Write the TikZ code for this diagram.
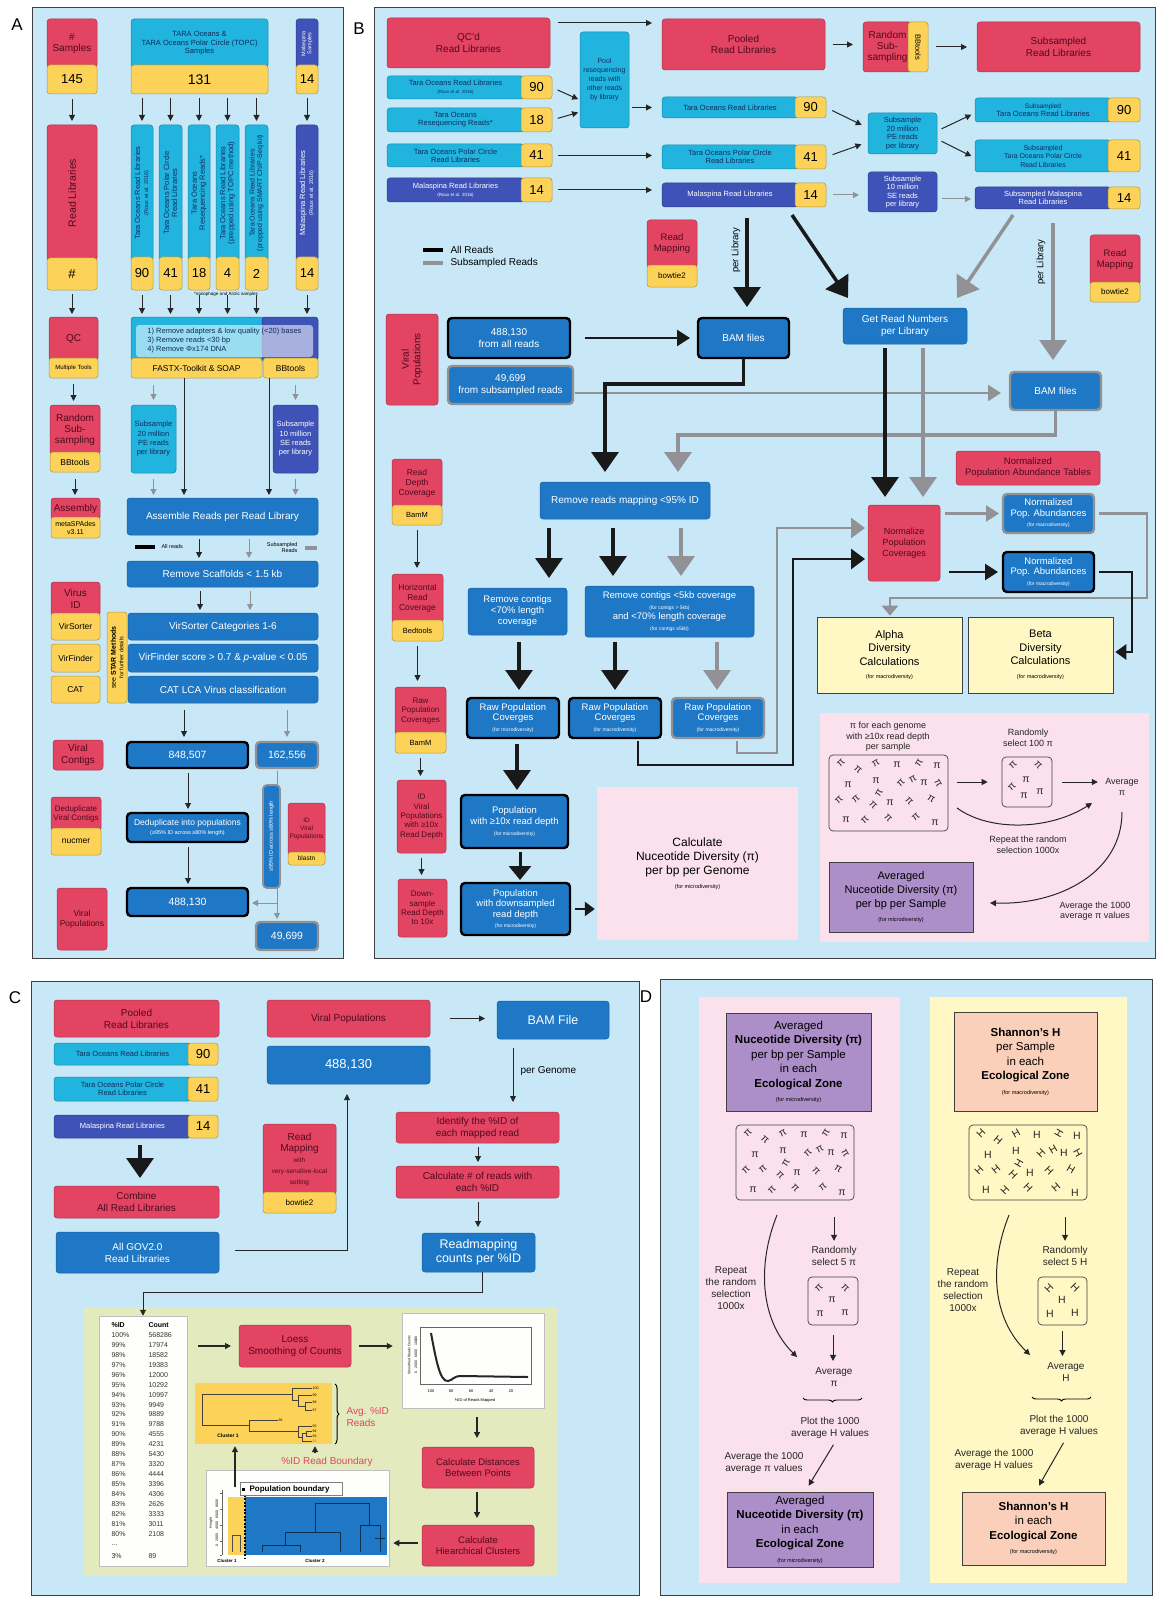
\documentclass[tikz,border=0pt]{standalone}
\usepackage{fontspec}
\setmainfont{Liberation Sans}
\usetikzlibrary{arrows.meta,decorations.pathreplacing}
\definecolor{cBg}{RGB}{200,232,248}
\definecolor{cR}{RGB}{226,68,98}
\definecolor{cRt}{RGB}{80,10,30}
\definecolor{cY}{RGB}{252,211,88}
\definecolor{cC}{RGB}{33,180,222}
\definecolor{cCt}{RGB}{15,45,95}
\definecolor{cI}{RGB}{62,82,184}
\definecolor{cU}{RGB}{31,120,198}
\definecolor{cG}{RGB}{145,145,150}
\definecolor{cPk}{RGB}{250,225,236}
\definecolor{cLY}{RGB}{255,248,196}
\definecolor{cPu}{RGB}{172,142,200}
\definecolor{cPe}{RGB}{250,208,186}
\definecolor{cGr}{RGB}{226,234,190}
\tikzset{
  fs/.style 2 args={font=\fontsize{#1}{#2}\selectfont},
  bx/.style={rounded corners=3pt,align=center,inner sep=0.5pt,outer sep=0pt,line width=0.5pt},
  rbox/.style={bx,fill=cR,draw=cR!75!black,text=cRt},
  ybox/.style={bx,fill=cY,draw=cY!70!black,text=black},
  cbox/.style={bx,fill=cC,draw=cC!75!black,text=cCt},
  ibox/.style={bx,fill=cI,draw=cI!75!black,text=white},
  ubox/.style={bx,fill=cU,draw=cU!80!black,text=white},
  kbox/.style={bx,fill=cU,draw=black,line width=2.4pt,text=white,rounded corners=4pt},
  gbox/.style={bx,fill=cU,draw=cG,line width=2.4pt,text=white,rounded corners=4pt},
  pbox/.style={align=center,inner sep=0.5pt,fill=cPk},
  lyfill/.style={align=center,inner sep=0.5pt,fill=cLY},
  lybox/.style={align=center,inner sep=0.5pt,fill=cLY,draw=black!75,line width=0.6pt},
  ppbox/.style={align=center,inner sep=0.5pt,fill=cPu,draw=black!75,line width=0.6pt},
  pebox/.style={align=center,inner sep=0.5pt,fill=cPe,draw=black!75,line width=0.6pt},
  sbox/.style={draw=black!75,line width=0.7pt,rounded corners=4pt},
  wbox/.style={fill=white!96!cGr,draw=black!25,line width=0.5pt},
  grfill/.style={fill=cGr},
  dyfill/.style={fill=cY},
  txt/.style={align=center,text=black!85},
  arw/.style={-{Triangle[length=6pt,width=6pt]},line width=1pt,black!85},
  garw/.style={-{Triangle[length=6pt,width=6pt]},line width=1pt,cG},
  marw/.style={-{Triangle[length=13pt,width=16pt]},line width=2.4pt,black!90},
  mgarw/.style={-{Triangle[length=13pt,width=16pt]},line width=2.4pt,cG},
  barw/.style={-{Triangle[length=20pt,width=27pt]},line width=3.5pt,black!90},
  bgarw/.style={-{Triangle[length=20pt,width=27pt]},line width=3.5pt,cG},
  pf/.style={fill=cBg,draw=black!75,line width=0.9pt},
}
\newcommand\B[7]{\node[#1,minimum width={(#5-#3)*1pt},minimum height={(#6-#4)*1pt}] (#2) at ({(#3+#5)/2},{(#4+#6)/2}) {#7};}
\newcommand\scat[3]{%
 \foreach \dx/\dy/\rr in {12/8/45,29/15/-40,47/8/30,68/10/0,90/8/60,108/11/0,19/30/0,47/26/0,72/28/45,84/24/30,95/28/0,109/28/-60,10/45/45,27/44/40,44/50/-45,50/38/60,61/48/0,80/46/-45,102/44/-30,17/65/0,36/65/45,59/63/-45,87/62/40,106/68/0}
 {\node[rotate=\rr,fs={10.5}{10.5},inner sep=0,text=black!85] at ({#2+\dx},{#3+\dy}) {#1};}}
\newcommand\scats[3]{%
 \foreach \dx/\dy/\rr in {11/11/45,37/11/-45,24/23/0,12/37/0,37/36/0}
 {\node[rotate=\rr,fs={10.5}{10.5},inner sep=0,text=black!85] at ({#2+\dx},{#3+\dy}) {#1};}}
\begin{document}
\begin{tikzpicture}[x=1pt,y=-1pt]
\useasboundingbox (0,0) rectangle (1157,1597);
\fill[white] (0,0) rectangle (1157,1597);
\draw[pf] (32,7) rectangle (343,958);
\draw[pf] (374,7) rectangle (1155,958);
\draw[pf] (31,981) rectangle (639,1595);
\draw[pf] (660,979) rectangle (1152,1595);
\node[fs={17}{17}] (LA) at (17,25) {A};
\node[fs={17}{17}] (LB) at (359,29) {B};
\node[fs={17}{17}] (LC) at (15,998) {C};
\node[fs={17}{17}] (LD) at (646,997) {D};
%================ PANEL A =================
\B{rbox,fs={10}{11.5}}{aS}{47}{19}{97}{68}{\#\\Samples}
\B{ybox,fs={13}{13}}{aSn}{47}{65}{97}{94}{145}
\B{rbox}{aRL}{47}{125}{97}{261}{}
\node[rotate=90,fs={10.5}{11},text=cRt] (aRLt) at (aRL) {Read Libraries};
\B{ybox,fs={13}{13}}{aRLn}{47}{258}{97}{290}{\#}
\B{rbox,fs={10}{11}}{aQ}{49}{317}{98}{361}{QC}
\B{ybox,fs={6}{7}}{aQy}{49}{358}{98}{378}{Multiple Tools}
\B{rbox,fs={10}{11}}{aRS}{50}{405}{100}{455}{Random\\Sub-\\sampling}
\B{ybox,fs={8.5}{9}}{aRSy}{50}{452}{100}{472}{BBtools}
\B{rbox,fs={10}{11}}{aAs}{51}{498}{100}{520}{Assembly}
\B{ybox,fs={7}{8}}{aAsy}{51}{517}{100}{538}{metaSPAdes\\v3.11}
\B{rbox,fs={10}{11.5}}{aVI}{51}{582}{100}{616}{Virus\\ID}
\B{ybox,fs={8.5}{9}}{aVS}{51}{613}{100}{640}{VirSorter}
\B{ybox,fs={8.5}{9}}{aVF}{51}{644}{100}{672}{VirFinder}
\B{ybox,fs={8.5}{9}}{aCA}{51}{676}{100}{703}{CAT}
\B{ybox}{aST}{107}{612}{127}{703}{}
\node[rotate=90,align=center,fs={7}{7.5}] (aSTt) at (aST) {see \textbf{STAR Methods}\\{\fontsize{5.5}{6}\selectfont for further details}};
\B{rbox,fs={10}{11.5}}{aVC}{53}{740}{103}{770}{Viral\\Contigs}
\B{rbox,fs={8}{9.5}}{aDD}{51}{797}{101}{831}{Deduplicate\\Viral Contigs}
\B{ybox,fs={8.5}{9}}{aDDy}{51}{828}{101}{855}{nucmer}
\B{rbox,fs={8.5}{10}}{aVP}{57}{888}{107}{950}{Viral\\Populations}
\draw[arw,shorten <=5pt,shorten >=4pt] (aSn.south) -- (aSn.south |- aRL.north);
\draw[arw,shorten <=4pt,shorten >=3pt] (aRLn.south) -- (aRLn.south |- aQ.north);
\draw[arw,shorten <=6pt,shorten >=4pt] (aQy.south) -- (aQy.south |- aRS.north);
\draw[arw,shorten <=7pt,shorten >=3pt] (aRSy.south) -- (aRSy.south |- aAs.north);
% middle top
\B{cbox,fs={7.5}{8.5}}{aT}{131}{19}{268}{68}{TARA Oceans \&\\TARA Oceans Polar Circle (TOPC)\\Samples}
\B{ybox,fs={14}{14}}{aTn}{131}{65}{268}{94}{131}
\B{ibox}{aM}{296}{19}{318}{68}{}
\node[rotate=90,align=center,fs={5.5}{6},text=white] (aMt) at (aM) {Malaspina\\Samples};
\B{ybox,fs={13}{13}}{aMn}{296}{65}{318}{94}{14}
% libraries
\B{cbox}{l1}{131}{125}{153}{261}{}
\node[rotate=90,align=center,fs={7.5}{8},text=cCt] (l1t) at (l1) {Tara Oceans Read Libraries\\{\fontsize{5.5}{6}\selectfont (Roux et al. 2016)}};
\B{ybox,fs={13}{13}}{l1n}{131}{257}{153}{290}{90}
\B{cbox}{l2}{159}{125}{182}{261}{}
\node[rotate=90,align=center,fs={7.5}{8},text=cCt] (l2t) at (l2) {Tara Oceans Polar Circle\\Read Libraries};
\B{ybox,fs={13}{13}}{l2n}{159}{257}{182}{290}{41}
\B{cbox}{l3}{188}{125}{210}{261}{}
\node[rotate=90,align=center,fs={7.5}{8},text=cCt] (l3t) at (l3) {Tara Oceans\\Resequencing Reads*};
\B{ybox,fs={13}{13}}{l3n}{188}{257}{210}{290}{18}
\B{cbox}{l4}{216}{125}{239}{261}{}
\node[rotate=90,align=center,fs={7.5}{8},text=cCt] (l4t) at (l4) {Tara Oceans Read Libraries\\(prepped using TOPC method)};
\B{ybox,fs={13}{13}}{l4n}{216}{257}{239}{290}{4}
\B{cbox}{l5}{245}{125}{268}{261}{}
\node[rotate=90,align=center,fs={7}{7.5},text=cCt] (l5t) at (l5) {Tara Oceans Read Libraries\\(prepped using SMART ChIP-Seq kit)};
\B{ybox,fs={13}{13}}{l5n}{245}{257}{268}{290}{2}
\B{ibox}{l6}{296}{125}{318}{261}{}
\node[rotate=90,align=center,fs={7.5}{8},text=white] (l6t) at (l6) {Malaspina Read Libraries\\{\fontsize{5.5}{6}\selectfont (Roux et al. 2016)}};
\B{ybox,fs={13}{13}}{l6n}{296}{257}{318}{290}{14}
\node[fs={4.5}{5}] (aFN) at (226,294) {*nanophage and Arctic samples};
% QC
\B{cbox}{aQC}{131}{317}{265}{361}{}
\B{ibox}{aQCi}{262}{317}{318}{361}{}
\B{bx,fill=white,fill opacity=0.55,text opacity=1,draw=none,align=left,text=cCt,fs={7.5}{9}}{aQCt}{136}{325}{313}{357}{1) Remove adapters \& low quality (<20) bases\\3) Remove reads <30 bp\\4) Remove Φx174 DNA}
\B{ybox,fs={8.5}{9}}{aQCf}{131}{358}{262}{378}{FASTX-Toolkit \& SOAP}
\B{ybox,fs={8.5}{9}}{aQCb}{263}{358}{318}{378}{BBtools}
\foreach \n in {l1,l2,l3,l4,l5} {\draw[arw,shorten <=4pt,shorten >=4pt] (\n.north |- aTn.south) -- (\n.north);}
\draw[arw,shorten <=4pt,shorten >=4pt] (aMn.south) -- (l6.north);
\foreach \n in {l1n,l2n,l3n,l4n,l5n,l6n} {\draw[arw,shorten <=5pt,shorten >=3pt] (\n.south) -- (\n.south |- aQC.north);}
% subsample
\B{cbox,fs={7.5}{9.3}}{aSub1}{131}{405}{176}{473}{Subsample\\20 million\\PE reads\\per library}
\B{ibox,fs={7.5}{9.3}}{aSub2}{273}{405}{318}{473}{Subsample\\10 million\\SE reads\\per library}
\draw[garw,shorten <=7pt,shorten >=5pt] (aSub1.north |- aQCf.south) -- (aSub1.north);
\draw[garw,shorten <=7pt,shorten >=5pt] (aSub2.north |- aQCb.south) -- (aSub2.north);
\B{ubox,fs={10}{11}}{aAR}{127}{498}{318}{535}{Assemble Reads per Read Library}
\draw[arw,shorten >=3pt] (aQCf.south -| 184,0) -- (aAR.north -| 184,0);
\draw[arw,shorten >=3pt] (aQCb.south -| 269,0) -- (aAR.north -| 269,0);
\draw[garw,shorten <=6pt,shorten >=3pt] (aSub1.south) -- (aSub1.south |- aAR.north);
\draw[garw,shorten <=6pt,shorten >=3pt] (aSub2.south) -- (aSub2.south |- aAR.north);
\draw[line width=3.5pt] (135,547) -- (155,547);
\node[fs={5.5}{6},anchor=west] (aLg1) at (158,547) {All reads};
\draw[line width=3.5pt,cG] (305,548) -- (317,548);
\node[fs={5.5}{6},align=right,anchor=east] (aLg2) at (301,548) {Subsampled\\Reads};
\B{ubox,fs={10}{11}}{aRSc}{127}{561}{318}{587}{Remove Scaffolds < 1.5 kb}
\draw[arw,shorten <=4pt,shorten >=3pt] (aAR.south -| 199,0) -- (aRSc.north -| 199,0);
\draw[garw,shorten <=4pt,shorten >=3pt] (aAR.south -| 249,0) -- (aRSc.north -| 249,0);
\B{ubox,fs={10}{11}}{aVSo}{128}{613}{318}{640}{VirSorter Categories 1-6}
\B{ubox,fs={10}{11}}{aVFi}{128}{644}{318}{672}{VirFinder score > 0.7 \& \textit{p}-value < 0.05}
\B{ubox,fs={10}{11}}{aCAb}{128}{676}{318}{703}{CAT LCA Virus classification}
\draw[arw,shorten <=4pt,shorten >=3pt] (aRSc.south -| 200,0) -- (aVSo.north -| 200,0);
\draw[garw,shorten <=4pt,shorten >=3pt] (aRSc.south -| 250,0) -- (aVSo.north -| 250,0);
\B{kbox,fs={10.5}{11}}{a848}{127}{742}{248}{768}{848,507}
\B{gbox,fs={10.5}{11}}{a162}{256}{742}{318}{768}{162,556}
\draw[arw,shorten <=7pt,shorten >=5pt] (aCAb.south -| 184,0) -- (a848.north -| 184,0);
\draw[garw,shorten <=7pt,shorten >=5pt] (aCAb.south -| 287,0) -- (a162.north -| 287,0);
\B{kbox,fs={8.5}{9.5}}{aDP}{127}{813}{248}{842}{Deduplicate into populations\\{\fontsize{5.5}{6}\selectfont (≥95\% ID across ≥80\% length)}}
\B{kbox,fs={10.5}{11}}{a488}{127}{888}{248}{916}{488,130}
\draw[arw,shorten <=5pt,shorten >=4pt] (a848.south -| 188,0) -- (aDP.north -| 188,0);
\draw[arw,shorten <=5pt,shorten >=4pt] (aDP.south -| 188,0) -- (a488.north -| 188,0);
\B{gbox,fs={10.5}{11}}{a497}{256}{922}{318}{950}{49,699}
\draw[garw,shorten <=3pt,shorten >=3pt] (a162.south -| 277,0) -- (a497.north -| 277,0);
\coordinate (aJ) at (277,903);
\draw[garw,shorten >=4pt] (aJ) -- (aJ -| a488.east);
\B{gbox,line width=1.8pt}{aGV}{263}{785}{280}{888}{}
\node[rotate=90,fs={5.5}{6},text=white] (aGVt) at (aGV) {≥95\% ID across ≥80\% length};
\B{rbox,fs={6.5}{8}}{aIDV}{288}{803}{325}{855}{ID\\Viral\\Populations}
\B{ybox,fs={6.5}{7}}{aIDVy}{288}{852}{325}{865}{blastn}
%================ PANEL B =================
\B{rbox,fs={10}{11.5}}{bQC}{387}{18}{550}{68}{QC'd\\Read Libraries}
\B{rbox,fs={10}{11.5}}{bPool}{662}{19}{825}{70}{Pooled\\Read Libraries}
\draw[arw] ([xshift=8pt,yshift=-5pt]bQC.north east) -- ([xshift=-10pt,yshift=-4pt]bPool.north west);
\B{rbox,fs={10}{11}}{bRS}{863}{22}{912}{72}{Random\\Sub-\\sampling}
\B{ybox}{bRSy}{908}{22}{928}{72}{}
\node[rotate=-90,fs={7.5}{8}] (bRSt) at (bRSy) {BBtools};
\B{rbox,fs={10}{11.5}}{bSub}{977}{22}{1140}{72}{Subsampled\\Read Libraries}
\draw[arw,shorten <=8pt,shorten >=10pt] (bPool.east) -- (bPool.east -| bRS.west);
\draw[arw,shorten <=8pt,shorten >=10pt] (bRSy.east) -- (bRSy.east -| bSub.west);
\B{cbox,fs={7.5}{8}}{br1}{387}{76}{524}{99}{Tara Oceans Read Libraries\\{\fontsize{4.5}{5}\selectfont (Roux et al. 2016)}}
\B{ybox,fs={13}{13}}{br1n}{521}{76}{552}{99}{90}
\B{cbox,fs={7.5}{8}}{br2}{387}{108}{524}{132}{Tara Oceans\\Resequencing Reads*}
\B{ybox,fs={13}{13}}{br2n}{521}{108}{552}{132}{18}
\B{cbox,fs={7.5}{8}}{br3}{387}{144}{524}{167}{Tara Oceans Polar Circle\\Read Libraries}
\B{ybox,fs={13}{13}}{br3n}{521}{144}{552}{167}{41}
\B{ibox,fs={7.5}{8}}{br4}{387}{178}{524}{202}{Malaspina Read Libraries\\{\fontsize{4.5}{5}\selectfont (Roux et al. 2016)}}
\B{ybox,fs={13}{13}}{br4n}{521}{178}{552}{202}{14}
\B{cbox,fs={7}{9}}{bPR}{580}{32}{629}{128}{Pool\\resequencing\\reads with\\other reads\\by library}
\draw[arw,shorten <=6pt,shorten >=2pt] (br1n.east) -- (bPR.west |- 0,100);
\draw[arw,shorten <=6pt,shorten >=2pt] (br2n.east) -- (bPR.west |- 0,112);
\B{cbox,fs={7.5}{8}}{bm1}{662}{97}{798}{118}{Tara Oceans Read Libraries}
\B{ybox,fs={13}{13}}{bm1n}{795}{97}{826}{118}{90}
\B{cbox,fs={7.5}{8.5}}{bm2}{662}{145}{798}{169}{Tara Oceans Polar Circle\\Read Libraries}
\B{ybox,fs={13}{13}}{bm2n}{795}{145}{826}{169}{41}
\B{ibox,fs={7.5}{8}}{bm3}{662}{183}{798}{207}{Malaspina Read Libraries}
\B{ybox,fs={13}{13}}{bm3n}{795}{183}{826}{207}{14}
\draw[arw,shorten <=3pt,shorten >=10pt] (bPR.east |- bm1.west) -- (bm1.west);
\draw[arw,shorten <=6pt,shorten >=10pt] (br3n.east) -- (br3n.east -| bm2.west);
\draw[arw,shorten <=6pt,shorten >=10pt] (br4n.east) -- (br4n.east -| bm3.west);
\B{cbox,fs={7.5}{8.5}}{bS20}{868}{113}{937}{154}{Subsample\\20 million\\PE reads\\per library}
\B{ibox,fs={7.5}{8.5}}{bS10}{868}{172}{937}{212}{Subsample\\10 million\\SE reads\\per library}
\draw[arw,shorten <=7pt,shorten >=7pt] (bm1n.east) -- (bS20.west |- 0,128);
\draw[arw,shorten <=7pt,shorten >=7pt] (bm2n.east) -- (bS20.west |- 0,142);
\draw[garw,shorten <=7pt,shorten >=9pt] (bm3n.east) -- (bm3n.east -| bS10.west);
\B{cbox,fs={7.5}{8}}{bs1}{975}{98}{1111}{122}{{\fontsize{6.5}{7}\selectfont Subsampled}\\Tara Oceans Read Libraries}
\B{ybox,fs={13}{13}}{bs1n}{1108}{98}{1140}{122}{90}
\B{cbox,fs={7}{8.5}}{bs2}{975}{140}{1111}{172}{Subsampled\\Tara Oceans Polar Circle\\Read Libraries}
\B{ybox,fs={13}{13}}{bs2n}{1108}{140}{1140}{172}{41}
\B{ibox,fs={7.5}{8.5}}{bs3}{975}{187}{1111}{209}{Subsampled Malaspina\\Read Libraries}
\B{ybox,fs={13}{13}}{bs3n}{1108}{187}{1140}{209}{14}
\draw[arw,shorten <=5pt,shorten >=4pt] (bS20.east |- 0,131) -- (bs1.west |- 0,113);
\draw[arw,shorten <=5pt,shorten >=4pt] (bS20.east |- 0,139) -- (bs2.west |- 0,158);
\draw[garw,shorten <=5pt,shorten >=4pt] (bS10.east |- 0,199) -- (bs3.west |- 0,199);
% legend
\draw[line width=4pt] (423,250) -- (443,250);
\node[fs={10}{11},anchor=west] (bLg1) at (447,250) {All Reads};
\draw[line width=4pt,cG] (423,263) -- (443,263);
\node[fs={10}{11},anchor=west] (bLg2) at (447,263) {Subsampled Reads};
\B{rbox,fs={9.5}{11}}{bRM}{647}{220}{697}{268}{Read\\Mapping}
\B{ybox,fs={8}{9}}{bRMy}{647}{265}{697}{287}{bowtie2}
\B{rbox,fs={9.5}{11}}{bRM2}{1090}{235}{1140}{285}{Read\\Mapping}
\B{ybox,fs={8}{9}}{bRM2y}{1090}{282}{1140}{302}{bowtie2}
% viral pops
\B{rbox}{bVP}{386}{314}{438}{405}{}
\node[rotate=90,align=center,fs={10}{11.5},text=cRt] (bVPt) at (bVP) {Viral\\Populations};
\B{kbox,fs={10}{12}}{b488}{448}{318}{570}{358}{488,130\\from all reads}
\B{gbox,fs={10}{12}}{b497}{448}{366}{573}{404}{49,699\\from subsampled reads}
\B{kbox,fs={10}{11}}{bBAM1}{698}{318}{789}{358}{BAM files}
\B{ubox,fs={10}{12}}{bGRN}{843}{308}{967}{344}{Get Read Numbers\\per Library}
\B{gbox,fs={10}{11}}{bBAM2}{1010}{372}{1101}{410}{BAM files}
\coordinate (bPL1) at (747,218);
\draw[barw,shorten >=11pt] (bPL1) -- (bPL1 |- bBAM1.north);
\node[rotate=90,fs={9.5}{10}] (bPLt1) at (736,250) {per Library};
\coordinate (bD1) at (792,215);
\draw[barw] (bD1) -- ([xshift=5pt,yshift=10pt]bGRN.north west);
\coordinate (bD2) at (1013,215);
\draw[bgarw] (bD2) -- ([xshift=-10pt,yshift=10pt]bGRN.north east);
\coordinate (bPL2) at (1053,223);
\draw[bgarw,shorten >=12pt] (bPL2) -- (bPL2 |- bBAM2.north);
\node[rotate=90,fs={9.5}{10}] (bPLt2) at (1041,262) {per Library};
\draw[marw,shorten <=15pt,shorten >=8pt] (b488.east) -- (bBAM1.west);
\draw[mgarw,shorten <=2pt,shorten >=9pt] (b497.east |- 0,393) -- (bBAM2.west |- 0,393);
\B{ubox,fs={10}{11}}{bRRM}{540}{482}{710}{519}{Remove reads mapping <95\% ID}
\draw[barw,shorten >=10pt] (bBAM1.south) |- (605,384) -- (bRRM.north -| 605,0);
\draw[bgarw,shorten >=10pt] (bBAM2.south) |- (678,435) -- (bRRM.north -| 678,0);
\B{rbox,fs={9.5}{11}}{bNAT}{956}{451}{1100}{485}{Normalized\\Population Abundance Tables}
\B{rbox,fs={9}{11}}{bNPC}{868}{505}{940}{581}{Normalize\\Population\\Coverages}
\draw[barw,shorten <=4pt,shorten >=8pt] (bGRN.south -| 885,0) -- (bNPC.north -| 885,0);
\draw[bgarw,shorten <=4pt,shorten >=8pt] (bGRN.south -| 923,0) -- (bNPC.north -| 923,0);
\B{gbox,fs={9.5}{10.5}}{bNPA1}{1003}{494}{1094}{533}{Normalized\\Pop. Abundances\\{\fontsize{5}{5.5}\selectfont (for macrodiversity)}}
\B{kbox,fs={9.5}{10.5}}{bNPA2}{1003}{552}{1094}{592}{Normalized\\Pop. Abundances\\{\fontsize{5}{5.5}\selectfont (for macrodiversity)}}
\draw[mgarw,shorten <=5pt,shorten >=4pt] (bNPC.east |- bNPA1.west) -- (bNPA1.west);
\draw[marw,shorten <=9pt,shorten >=5pt] (bNPC.east |- bNPA2.west) -- (bNPA2.west);
\B{lybox,fs={11}{13.5}}{bAlpha}{817}{617}{962}{693}{Alpha\\Diversity\\Calculations\\{\fontsize{5.5}{6}\selectfont (for macrodiversity)}}
\B{lybox,fs={11}{13.5}}{bBeta}{968}{617}{1113}{693}{Beta\\Diversity\\Calculations\\{\fontsize{5.5}{6}\selectfont (for macrodiversity)}}
\draw[line width=2.4pt,cG,-{Triangle[length=10pt,width=16pt]},shorten <=5pt,shorten >=1pt] (bNPA1.east) -| (1147,598) -| (bAlpha.north -| 890,0);
\draw[line width=2.5pt,black!90,-{Triangle[length=11pt,width=15pt]},shorten <=5pt,shorten >=2pt] (bNPA2.east) -| (1132,652) -- (bBeta.east |- 0,652);
\B{ubox,fs={9.5}{11}}{bRC1}{468}{588}{567}{635}{Remove contigs\\<70\% length\\coverage}
\B{ubox,fs={9.5}{10.5}}{bRC2}{585}{586}{754}{637}{Remove contigs <5kb coverage\\{\fontsize{5}{5.5}\selectfont (for contigs > 5kb)}\\and <70\% length coverage\\{\fontsize{5}{5.5}\selectfont (for contigs ≤5kb)}}
\draw[barw,shorten <=9pt,shorten >=10pt] (bRRM.south -| 549,0) -- (bRC1.north -| 549,0);
\draw[barw,shorten <=9pt,shorten >=10pt] (bRRM.south -| 613,0) -- (bRC2.north -| 613,0);
\draw[bgarw,shorten <=9pt,shorten >=10pt] (bRRM.south -| 681,0) -- (bRC2.north -| 681,0);
\B{kbox,fs={9.5}{10.5}}{bRP1}{467}{698}{559}{738}{Raw Population\\Coverges\\{\fontsize{5}{5.5}\selectfont (for microdiversity)}}
\B{kbox,fs={9.5}{10.5}}{bRP2}{569}{698}{661}{738}{Raw Population\\Coverges\\{\fontsize{5}{5.5}\selectfont (for macrodiversity)}}
\B{gbox,fs={9.5}{10.5}}{bRP3}{672}{698}{764}{738}{Raw Population\\Coverges\\{\fontsize{5}{5.5}\selectfont (for macrodiversity)}}
\draw[barw,shorten <=7pt,shorten >=8pt] (bRC1.south -| 519,0) -- (bRP1.north -| 519,0);
\draw[barw,shorten <=5pt,shorten >=8pt] (bRC2.south -| 615,0) -- (bRP2.north -| 615,0);
\draw[bgarw,shorten <=5pt,shorten >=8pt] (bRC2.south -| 717,0) -- (bRP3.north -| 717,0);
\draw[line width=2.6pt,cG,-{Triangle[length=14pt,width=20pt]},shorten <=3pt,shorten >=3pt] (bRP3.south -| 737,0) |- (777,753) |- (bNPC.west |- 0,528);
\draw[line width=2.8pt,black!90,-{Triangle[length=14pt,width=20pt]},shorten <=3pt,shorten >=3pt] (bRP2.south -| 638,0) |- (793,765) |- (bNPC.west |- 0,559);
\B{kbox,fs={9.5}{11}}{bPop10}{461}{795}{568}{848}{Population\\with ≥10x read depth\\{\fontsize{5}{5.5}\selectfont (for microdiversity)}}
\draw[barw,shorten <=6pt,shorten >=5pt] (bRP1.south -| 517,0) -- (bPop10.north -| 517,0);
\B{kbox,fs={9.5}{10.5}}{bPopDS}{461}{883}{570}{935}{Population\\with downsampled\\read depth\\{\fontsize{5}{5.5}\selectfont (for microdiversity)}}
\draw[line width=3pt,black!90,-{Triangle[length=14pt,width=22pt]},shorten <=4pt,shorten >=3pt] (bPop10.south -| 520,0) -- (bPopDS.north -| 520,0);
\B{pbox,fs={12}{14}}{bCalc}{597}{787}{798}{940}{Calculate\\Nuceotide Diversity (π)\\per bp per Genome\\{\fontsize{5.5}{6}\selectfont (for microdiversity)}}
\draw[line width=2.5pt,black!90,-{Triangle[length=10pt,width=14pt]},shorten <=5pt,shorten >=2pt] (bPopDS.east) -- (bCalc.west |- bPopDS.east);
% left column B
\B{rbox,fs={8.5}{10}}{bRDC}{392}{459}{442}{508}{Read\\Depth\\Coverage}
\B{ybox,fs={7.5}{8}}{bRDCy}{392}{505}{442}{525}{BamM}
\B{rbox,fs={8.5}{10}}{bHRC}{392}{574}{443}{623}{Horizontal\\Read\\Coverage}
\B{ybox,fs={7.5}{8}}{bHRCy}{392}{620}{443}{641}{Bedtools}
\B{rbox,fs={8}{9.5}}{bRPC}{395}{687}{446}{735}{Raw\\Population\\Coverages}
\B{ybox,fs={7.5}{8}}{bRPCy}{395}{732}{446}{753}{BamM}
\B{rbox,fs={8}{9.3}}{bIDV}{397}{780}{446}{853}{ID\\Viral\\Populations\\with ≥10x\\Read Depth}
\B{rbox,fs={8}{9.3}}{bDS}{398}{879}{447}{937}{Down-\\sample\\Read Depth\\to 10x}
\draw[arw,shorten <=5pt,shorten >=6pt] (bRDCy.south) -- (bRDCy.south |- bHRC.north);
\draw[arw,shorten <=5pt,shorten >=6pt] (bHRCy.south) -- (bHRCy.south |- bRPC.north);
\draw[arw,shorten <=5pt,shorten >=4pt] (bRPCy.south) -- (bRPCy.south |- bIDV.north);
\draw[arw,shorten <=5pt,shorten >=4pt] (bIDV.south) -- (bIDV.south |- bDS.north);
% pink right box
\B{pbox}{bPk2}{820}{713}{1149}{942}{}
\node[txt,fs={9}{10.5}] (bT1) at (888,737) {π for each genome\\with ≥10x read depth\\per sample};
\B{sbox}{bScat}{829}{755}{948}{831}{}
\scat{π}{829}{755}
\node[txt,fs={9}{10.5}] (bT2) at (1028,738) {Randomly\\select 100 π};
\B{sbox}{bSel}{1002}{757}{1052}{807}{}
\foreach \dx/\dy/\rr in {11/8/45,36/8/-45,24/23/0,10/30/45,22/39/0,38/35/0}
 {\node[rotate=\rr,fs={10.5}{10.5},inner sep=0,text=black!85] at ({1002+\dx},{757+\dy}) {π};}
\node[txt,fs={9}{10.5}] (bAvg) at (1122,787) {Average\\π};
\draw[arw,shorten <=9pt,shorten >=14pt] (bScat.east |- bSel.west) -- (bSel.west);
\draw[arw,shorten <=10pt,shorten >=4pt] (bSel.east) -- (bAvg.west |- bSel.east);
\coordinate (bc1) at (957,808);
\coordinate (bc2) at (1092,803);
\draw[arw] (bc1) .. controls (990,832) and (1050,830) .. (bc2);
\node[txt,fs={9}{10.5}] (bT3) at (1028,845) {Repeat the random\\selection 1000x};
\B{ppbox,fs={11}{14}}{bAvgB}{829}{862}{973}{932}{Averaged\\Nuceotide Diversity (π)\\per bp per Sample\\{\fontsize{5.5}{6}\selectfont (for microdiversity)}}
\coordinate (bc3) at (1122,812);
\coordinate (bc4) at (990,903);
\draw[arw] (bc3) .. controls (1122,872) and (1060,905) .. (bc4);
\node[txt,fs={9}{10.5}] (bT4) at (1095,911) {Average the 1000\\average π values};
%================ PANEL C =================
\B{rbox,fs={10}{12}}{cPool}{54}{1000}{219}{1037}{Pooled\\Read Libraries}
\B{cbox,fs={7.5}{8}}{cR1}{54}{1043}{191}{1065}{Tara Oceans Read Libraries}
\B{ybox,fs={13}{13}}{cR1n}{188}{1043}{218}{1065}{90}
\B{cbox,fs={7.5}{8.5}}{cR2}{54}{1077}{191}{1101}{Tara Oceans Polar Circle\\Read Libraries}
\B{ybox,fs={13}{13}}{cR2n}{188}{1077}{218}{1101}{41}
\B{ibox,fs={7.5}{8}}{cR3}{54}{1115}{191}{1138}{Malaspina Read Libraries}
\B{ybox,fs={13}{13}}{cR3n}{188}{1115}{218}{1138}{14}
\B{rbox,fs={10}{12}}{cComb}{54}{1186}{219}{1218}{Combine\\All Read Libraries}
\draw[barw,shorten <=7pt,shorten >=8pt] (cR3.south -| 140,0) -- (cComb.north -| 140,0);
\B{ubox,fs={10}{12}}{cGOV}{56}{1232}{219}{1273}{All GOV2.0\\Read Libraries}
\B{rbox,fs={10}{12}}{cVP}{267}{1000}{430}{1037}{Viral Populations}
\B{ubox,fs={13}{13}}{c488}{267}{1046}{430}{1084}{488,130}
\draw[arw,shorten <=16pt,shorten >=10pt] (cGOV.east |- 0,1250) -| (c488.south -| 347,0);
\B{rbox,fs={10}{11}}{cRM}{263}{1124}{336}{1195}{Read\\Mapping\\{\fontsize{6.5}{7}\selectfont with}\\{\fontsize{6.5}{7}\selectfont very-sensitive-local}\\{\fontsize{6.5}{7}\selectfont setting}}
\B{ybox,fs={8}{9}}{cRMy}{263}{1192}{336}{1213}{bowtie2}
\B{ubox,fs={12.5}{13}}{cBAM}{497}{1001}{609}{1039}{BAM File}
\draw[arw,shorten <=20pt,shorten >=12pt] (cVP.east) -- (cBAM.west |- cVP.east);
\B{rbox,fs={10}{12}}{cIdent}{396}{1112}{559}{1143}{Identify the \%ID of\\each mapped read}
\draw[arw,line width=0.8pt,shorten <=9pt,shorten >=10pt] (cBAM.south -| 513,0) -- (cIdent.north -| 513,0);
\node[fs={10}{11},anchor=west] (cPG) at (517,1071) {per Genome};
\B{rbox,fs={10}{12}}{cCalc}{396}{1166}{559}{1198}{Calculate \# of reads with\\each \%ID}
\draw[arw,shorten <=4pt,shorten >=4pt] (cIdent.south -| 478,0) -- (cCalc.north -| 478,0);
\B{ubox,fs={12.5}{14.5}}{cRC}{422}{1233}{535}{1272}{Readmapping\\counts per \%ID}
\draw[arw,shorten <=4pt,shorten >=6pt] (cCalc.south -| 478,0) -- (cRC.north -| 478,0);
\B{grfill}{cGreen}{84}{1307}{557}{1575}{}
\B{wbox}{cTab}{99}{1316}{187}{1566}{}
\draw[arw] (cRC.south -| 482,0) |- (143,1292) -- (cTab.north -| 143,0);
\node[anchor=west,fs={7}{8}] (cH1) at (108,1325) {\textbf{\%ID}};
\node[anchor=west,fs={7}{8}] (cH2) at (145,1325) {\textbf{Count}};
\foreach \p/\c [count=\i] in {100/568286,99/17974,98/18582,97/19383,96/12000,95/10292,94/10997,93/9949,92/9889,91/9788,90/4555,89/4231,88/5430,87/3320,86/4444,85/3396,84/4306,83/2626,82/3333,81/3011,80/2108}
 {\node[anchor=west,fs={7}{8},text=black!80] at (108,{1325+\i*9.95}) {\p\%};
  \node[anchor=west,fs={7}{8},text=black!80] at (145,{1325+\i*9.95}) {\c};}
\node[anchor=west,fs={7}{8},text=black!80] (cDots) at (108,1545) {...};
\node[anchor=west,fs={7}{8},text=black!80] (c3p) at (108,1556) {3\%};
\node[anchor=west,fs={7}{8},text=black!80] (c89) at (145,1556) {89};
\B{rbox,fs={10}{12}}{cLoess}{239}{1325}{351}{1367}{Loess\\Smoothing of Counts}
\draw[arw,line width=1.2pt,shorten <=11pt,shorten >=8pt] (cTab.east |- cLoess.west) -- (cLoess.west);
\B{wbox}{cPlot}{402}{1313}{544}{1408}{}
\draw[arw,line width=1.2pt,shorten <=8pt,shorten >=9pt] (cLoess.east) -- (cPlot.west |- cLoess.east);
\draw[black!60,line width=0.4pt] (420,1327) rectangle (531,1384);
\draw[line width=2pt,black!85] (431,1333) .. controls (436,1360) and (440,1382) .. (448,1381) .. controls (454,1380) and (452,1376) .. (462,1376) -- (528,1377);
\node[rotate=90,fs={3.5}{4}] (cYt) at (416,1355) {0\quad 2000\quad 6000\quad 10000};
\node[rotate=90,fs={3.5}{4}] (cYl) at (409,1355) {Smoothed Reads Counts};
\foreach \v/\x in {100/431,80/451,60/471,40/491,20/511} {\node[fs={4}{4}] at (\x,1391) {\v};}
\node[fs={4}{4}] (cXl) at (475,1400) {\%ID of Reads Mapped};
\B{rbox,fs={9.5}{11.5}}{cDist}{422}{1447}{534}{1488}{Calculate Distances\\Between Points}
\draw[arw,line width=1.2pt,shorten <=9pt,shorten >=9pt] (cPlot.south -| 477,0) -- (cDist.north -| 477,0);
\B{rbox,fs={9.5}{11.5}}{cHC}{422}{1525}{534}{1566}{Calculate\\Hiearchical Clusters}
\draw[arw,line width=1.2pt,shorten <=4pt,shorten >=7pt] (cDist.south -| 477,0) -- (cHC.north -| 477,0);
\B{wbox}{cDend}{206}{1470}{389}{1566}{}
\draw[arw,line width=1.2pt,shorten <=4pt,shorten >=4pt] (cHC.west |- 0,1543) -- (cDend.east |- 0,1543);
\fill[cY] (228,1497) rectangle (245,1555);
\fill[cU] (245,1497) rectangle (387,1555);
\begin{scope}[line width=0.5pt,draw=black!60!cU]
\draw (315,1503) -- (369,1503) (315,1503) -- (315,1532) (285,1532) -- (340,1532) (285,1532) -- (285,1545) (262,1545) -- (300,1545) (262,1545) -- (262,1552) (300,1545) -- (300,1552) (340,1532) -- (340,1552) (369,1503) -- (369,1525) (360,1525) -- (380,1525) (360,1525) -- (360,1552) (380,1525) -- (380,1552) (375,1538) -- (385,1538);
\end{scope}
\draw[black!70,line width=0.4pt] (232,1535) -- (240,1535) (232,1535) -- (232,1552) (240,1535) -- (240,1552);
\draw[line width=1.6pt,dash pattern=on 2pt off 1.5pt] (245,1484) -- (245,1558);
\draw[black!50,line width=0.4pt,fill=white] (240,1482) rectangle (342,1495);
\node[anchor=west,fs={8}{8}] (cPB) at (246,1489) {\textbf{Population boundary}};
\fill[black] (242,1487.5) rectangle (244.5,1490.5);
\draw[black!60,line width=0.4pt] (222,1490) -- (222,1555);
\foreach \t in {1493,1509,1525,1541,1555} {\draw[black!60,line width=0.4pt] (220,\t) -- (222,\t);}
\node[rotate=90,fs={3.5}{4}] (cHt) at (217,1523) {0\quad 2000\quad 4000\quad 6000\quad 8000};
\node[rotate=90,fs={3.5}{4}] (cHl) at (211,1523) {Height};
\node[fs={4.5}{5}] (cCl1) at (227,1561) {\textbf{Cluster 1}};
\node[fs={4.5}{5}] (cCl2) at (315,1561) {\textbf{Cluster 2}};
\B{dyfill}{cDY}{195}{1383}{332}{1444}{}
\begin{scope}[line width=0.6pt,draw=black!75]
\draw (305,1402) -- (305,1410) (305,1402) -- (312,1402) (305,1410) -- (312,1410);
\draw (298,1395) -- (298,1406) (298,1395) -- (312,1395) (298,1406) -- (305,1406);
\draw (292,1388) -- (292,1400.5) (292,1388) -- (312,1388) (292,1400.5) -- (298,1400.5);
\draw (306,1431) -- (306,1436) (306,1431) -- (312,1431) (306,1436) -- (312,1436);
\draw (302,1433.5) -- (302,1441) (302,1433.5) -- (306,1433.5) (302,1441) -- (312,1441);
\draw (298,1426) -- (298,1437) (298,1426) -- (312,1426) (298,1437) -- (302,1437);
\draw (249,1420) -- (249,1431.5) (249,1420) -- (278,1420) (249,1431.5) -- (298,1431.5);
\draw (202,1394) -- (202,1425.75) (202,1394) -- (292,1394) (202,1425.75) -- (249,1425.75);
\end{scope}
\foreach \v/\y in {100/1388,99/1395,98/1402,97/1410,95/1426,94/1431,93/1436} {\node[anchor=west,fs={3.5}{4},inner sep=0.5pt] at (312,\y) {\v};}
\node[anchor=west,fs={3.5}{4},inner sep=0.5pt] (c96) at (278,1420) {96};
\node[anchor=west,fs={3.5}{4},inner sep=0.5pt,text=cR] (c92) at (312,1441) {92};
\node[fs={5}{5}] (cCl1b) at (228,1436) {\textbf{Cluster 1}};
\draw[arw,line width=1.2pt,shorten <=-17pt,shorten >=2pt] (cDend.north -| 235,0) -- (cDY.south -| 235,0);
\draw[decorate,decoration={brace,amplitude=4pt},line width=1pt] (335,1384) -- (335,1444);
\node[anchor=west,fs={10}{11.5},text=cR,align=left] (cAvg) at (343,1417) {Avg. \%ID\\Reads};
\node[fs={10}{11},text=cR] (cBnd) at (327,1462) {\%ID Read Boundary};
\draw[arw,line width=1.2pt,shorten <=1pt,shorten >=2pt] (cBnd.north -| 315,0) -- (cDY.south -| 315,0);
%================ PANEL D =================
\B{pbox}{dPk}{699}{997}{900}{1583}{}
\B{lyfill}{dYl}{930}{997}{1127}{1583}{}
\B{ppbox,fs={11.5}{14.5}}{dT1}{726}{1013}{871}{1111}{Averaged\\\textbf{Nuceotide Diversity (π)}\\per bp per Sample\\in each\\\textbf{Ecological Zone}\\{\fontsize{5.5}{6}\selectfont (for microdiversity)}}
\B{pebox,fs={11.5}{14.5}}{dT2}{954}{1012}{1097}{1111}{\textbf{Shannon's H}\\per Sample\\in each\\\textbf{Ecological Zone}\\{\fontsize{5.5}{6}\selectfont (for macrodiversity)}}
\B{sbox}{dS1}{736}{1125}{854}{1200}{}
\scat{π}{736}{1125}
\B{sbox}{dS2}{969}{1125}{1087}{1200}{}
\scat{H}{969}{1125}
\node[txt,fs={10}{12}] (dR1) at (834,1256) {Randomly\\select 5 π};
\node[txt,fs={10}{12}] (dR2) at (1065,1256) {Randomly\\select 5 H};
\draw[arw,shorten <=17pt,shorten >=2pt] (dS1.south -| dR1.north) -- (dR1.north);
\draw[arw,shorten <=17pt,shorten >=2pt] (dS2.south -| dR2.north) -- (dR2.north);
\B{sbox}{dSel1}{808}{1277}{858}{1325}{}
\scats{π}{808}{1277}
\B{sbox}{dSel2}{1038}{1277}{1087}{1325}{}
\scats{H}{1038}{1277}
\node[txt,fs={10}{12}] (dA1) at (834,1377) {Average\\π};
\node[txt,fs={10}{12}] (dA2) at (1066,1372) {Average\\H};
\draw[arw,shorten <=10pt,shorten >=3pt] (dSel1.south) -- (dSel1.south |- dA1.north);
\draw[arw,shorten <=6pt,shorten >=3pt] (dSel2.south) -- (dSel2.south |- dA2.north);
\coordinate (dc1) at (777,1215);
\coordinate (dc2) at (797,1357);
\draw[arw] (dc1) .. controls (757,1265) and (760,1320) .. (dc2);
\coordinate (dc3) at (1009,1215);
\coordinate (dc4) at (1030,1355);
\draw[arw] (dc3) .. controls (989,1265) and (992,1318) .. (dc4);
\node[txt,fs={10}{12}] (dRp1) at (731,1288) {Repeat\\the random\\selection\\1000x};
\node[txt,fs={10}{12}] (dRp2) at (963,1290) {Repeat\\the random\\selection\\1000x};
\draw[decorate,decoration={brace,amplitude=4pt,mirror},line width=0.9pt] (803,1398) -- (862,1398);
\draw[decorate,decoration={brace,amplitude=4pt,mirror},line width=0.9pt] (1032,1397) -- (1091,1397);
\node[txt,fs={10}{12}] (dPl1) at (830,1428) {Plot the 1000\\average H values};
\node[txt,fs={10}{12}] (dPl2) at (1059,1426) {Plot the 1000\\average H values};
\node[txt,fs={10}{12}] (dAv1) at (764,1463) {Average the 1000\\average π values};
\node[txt,fs={10}{12}] (dAv2) at (994,1460) {Average the 1000\\average H values};
\B{ppbox,fs={11.5}{14.5}}{dB1}{727}{1492}{873}{1567}{Averaged\\\textbf{Nuceotide Diversity (π)}\\in each\\\textbf{Ecological Zone}\\{\fontsize{5.5}{6}\selectfont (for microdiversity)}}
\B{pebox,fs={11.5}{14.5}}{dB2}{962}{1492}{1105}{1565}{\textbf{Shannon's H}\\in each\\\textbf{Ecological Zone}\\{\fontsize{5.5}{6}\selectfont (for macrodiversity)}}
\draw[arw,shorten <=3pt,shorten >=7pt] ([xshift=5pt]dPl1.south) -- ([xshift=5pt]dB1.north);
\draw[arw,shorten <=3pt,shorten >=7pt] ([xshift=6pt]dPl2.south) -- ([xshift=2pt]dB2.north);
\end{tikzpicture}
\end{document}
